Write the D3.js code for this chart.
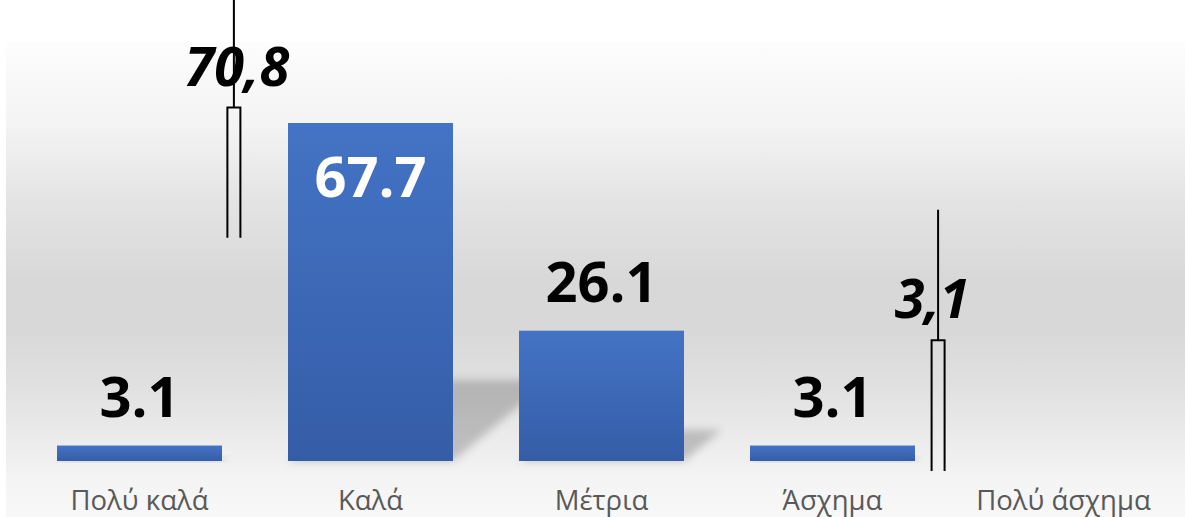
<!DOCTYPE html>
<html>
<head>
<meta charset="utf-8">
<script src="https://cdn.jsdelivr.net/npm/d3@7"></script>
<style>
  html, body { margin: 0; padding: 0; background: #ffffff; }
  svg { display: block; }
</style>
</head>
<body>
<div id="chart"></div>
<script>
// ---- data ----
const categories = ["Πολύ καλά", "Καλά", "Μέτρια", "Άσχημα", "Πολύ άσχημα"];
const values = [3.1, 67.7, 26.1, 3.1, null];
const valueLabels = ["3.1", "67.7", "26.1", "3.1", ""];
// bracket annotations
const annoTexts = ["70,8", "3,1"];
const annoAfter = ["Πολύ καλά", "Άσχημα"];
const annoRectTop = [70.8, 24.2];
const annoRectBottom = [44.7, -2.0];
const annoLineTop = [92.5, 50.3];

const W = 1185, H = 517;
const svg = d3.select("#chart").append("svg").attr("width", W).attr("height", H);
const defs = svg.append("defs");

// background gradient
const bg = defs.append("linearGradient").attr("id", "bgGrad").attr("x1", 0).attr("y1", 0).attr("x2", 0).attr("y2", 1);
[[0, "#fdfdfd"], [0.18, "#f3f3f3"], [0.33, "#e4e4e4"], [0.5, "#d8d8d8"], [0.6, "#d8d8d8"], [0.72, "#e0e0e0"], [0.82, "#eaeaea"], [0.92, "#f4f4f4"], [1, "#f8f8f8"]]
  .forEach(([o, c]) => bg.append("stop").attr("offset", o).attr("stop-color", c));

const barGrad = defs.append("linearGradient").attr("id", "barGrad").attr("x1", 0).attr("y1", 0).attr("x2", 0).attr("y2", 1);
barGrad.append("stop").attr("offset", 0).attr("stop-color", "#4473c5");
barGrad.append("stop").attr("offset", 1).attr("stop-color", "#355da7");

const blur = defs.append("filter").attr("id", "shadowBlur").attr("x", "-50%").attr("y", "-50%").attr("width", "200%").attr("height", "200%");
blur.append("feGaussianBlur").attr("stdDeviation", 4);

svg.append("rect").attr("x", 6).attr("y", 42).attr("width", W - 6).attr("height", H - 42).attr("fill", "url(#bgGrad)");

// scales
const x = d3.scaleBand().domain(categories).range([24, 1179]).paddingInner(0.2857).paddingOuter(0.1429);
const y = d3.scaleLinear().domain([0, 67.7]).range([461, 123]);

const data = categories.map((c, i) => ({ c, v: values[i], label: valueLabels[i] }));
const barData = data.filter(d => d.v != null);

// perspective shadows
const shear = 1.2, hScale = 0.24;
svg.append("g").selectAll("path").data(barData).join("path")
  .attr("d", d => {
    const x0 = x(d.c), x1 = x(d.c) + x.bandwidth();
    const base = y(0);
    const hs = (y(0) - y(d.v)) * hScale;
    return `M${x0},${base}L${x1},${base}L${x1 + shear * hs},${base - hs}L${x0 + shear * hs},${base - hs}Z`;
  })
  .attr("fill", "#000").attr("fill-opacity", 0.2).attr("filter", "url(#shadowBlur)");

// bars
svg.append("g").selectAll("rect").data(barData).join("rect")
  .attr("x", d => x(d.c)).attr("width", x.bandwidth())
  .attr("y", d => y(d.v)).attr("height", d => y(0) - y(d.v))
  .attr("fill", "url(#barGrad)");

// value labels
svg.append("g").selectAll("text").data(barData).join("text")
  .attr("x", d => x(d.c) + x.bandwidth() / 2)
  .attr("y", d => d.v > 50 ? y(d.v) + 74 : y(d.v) - 29)
  .attr("text-anchor", "middle")
  .attr("font-family", "'Open Sans', 'Noto Sans', sans-serif")
  .attr("font-weight", 700).attr("font-size", 56)
  .attr("fill", d => d.v > 50 ? "#ffffff" : "#000000")
  .text(d => d.label);

// category axis labels
svg.append("g").selectAll("text").data(categories).join("text")
  .attr("x", d => x(d) + x.bandwidth() / 2).attr("y", 510)
  .attr("text-anchor", "middle")
  .attr("font-family", "'Open Sans', 'Noto Sans', sans-serif")
  .attr("font-size", 27.5).attr("fill", "#595959")
  .text(d => d);

// bracket annotations
const annoOffsetFrac = [0.18, 0.35];
const anno = annoTexts.map((t, i) => ({ t, after: annoAfter[i], top: annoRectTop[i], bot: annoRectBottom[i], lineTop: annoLineTop[i], f: annoOffsetFrac[i] }));
const annoX = d => x(d.after) + x.bandwidth() + (x.step() - x.bandwidth()) * d.f;
const ag = svg.append("g");
ag.selectAll("text").data(anno).join("text")
  .attr("x", d => annoX(d) + (d.t === "3,1" ? -6 : 3))
  .attr("y", d => y(d.top) - 22)
  .attr("text-anchor", "middle")
  .attr("font-family", "'Open Sans', 'Noto Sans', sans-serif")
  .attr("font-weight", 700).attr("font-style", "italic").attr("font-size", 54)
  .attr("fill", "#000")
  .text(d => d.t);
ag.selectAll("path").data(anno).join("path")
  .attr("d", d => {
    const cx = annoX(d), half = 6.5;
    return `M${cx},${y(d.lineTop)}V${y(d.top)}M${cx - half},${y(d.bot)}V${y(d.top)}H${cx + half}V${y(d.bot)}`;
  })
  .attr("fill", "none").attr("stroke", "#000").attr("stroke-width", 2);
</script>
</body>
</html>
